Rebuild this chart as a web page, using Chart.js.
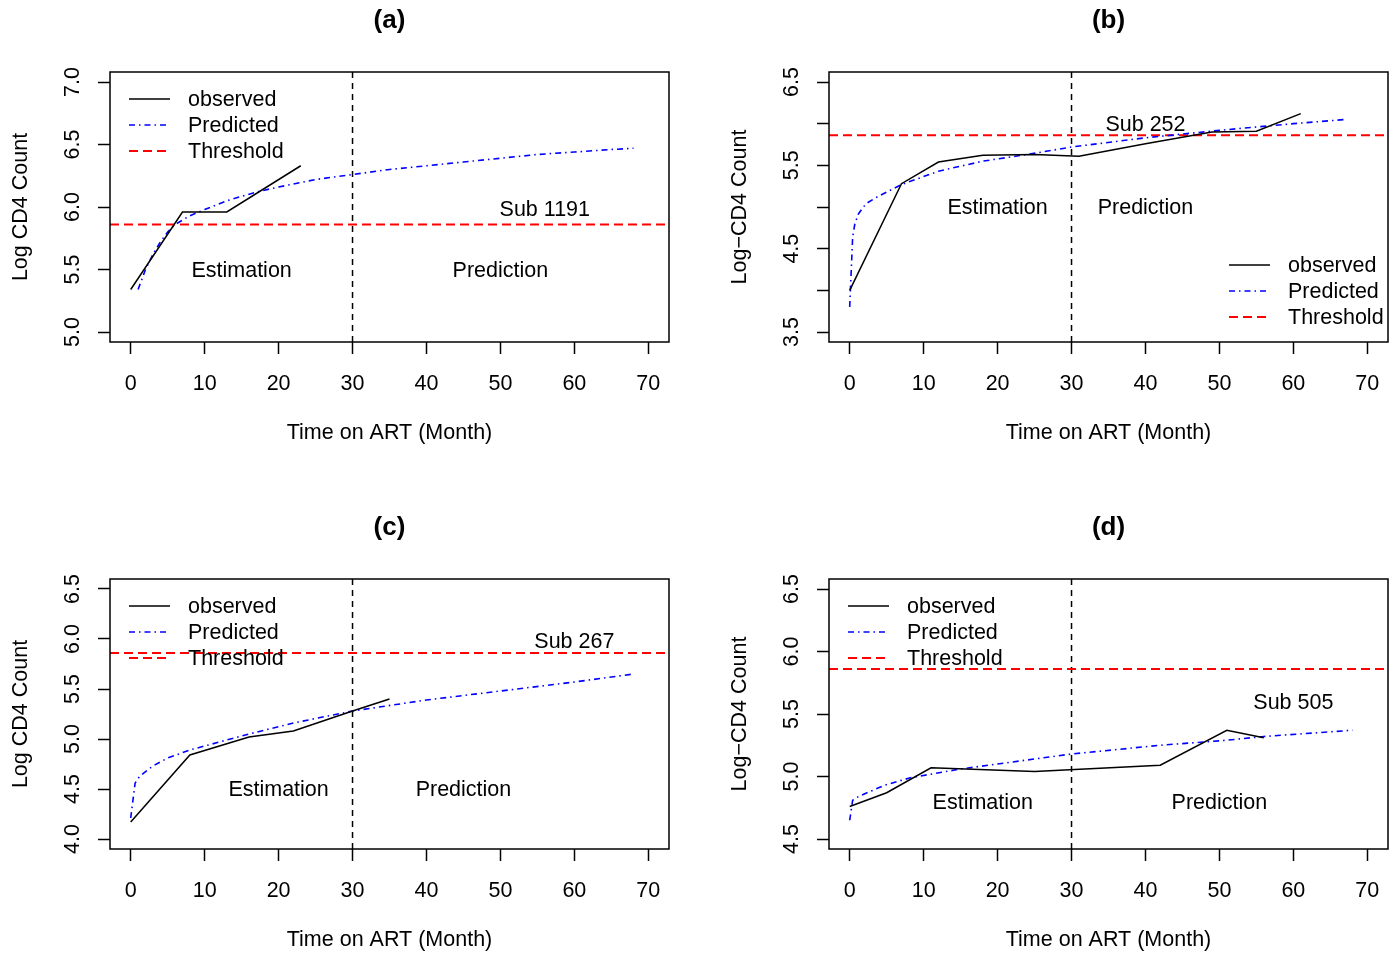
<!DOCTYPE html>
<html>
<head>
<meta charset="utf-8">
<script src="https://cdn.jsdelivr.net/npm/chart.js@4.4.0/dist/chart.umd.min.js"></script>
<style>
  body { margin: 0; background: #fff; }
  #wrap { position: relative; width: 1395px; height: 953px; background: #fff; }
  .panel { position: absolute; }
</style>
</head>
<body>
<div id="wrap">
  <canvas class="panel" id="pa" width="676" height="446" style="left:0;top:0"></canvas>
  <canvas class="panel" id="pb" width="676" height="446" style="left:719px;top:0"></canvas>
  <canvas class="panel" id="pc" width="676" height="446" style="left:0;top:507px"></canvas>
  <canvas class="panel" id="pd" width="676" height="446" style="left:719px;top:507px"></canvas>
</div>
<script>
// shared
var xTicks = [0, 10, 20, 30, 40, 50, 60, 70];
var threshold = 5.86;   // log(350)
var splitMonth = 30;
var seriesNames = ['observed', 'Predicted', 'Threshold'];

// (a) Sub 1191
var obsMonthA = [0, 7, 13, 23];
var obsA = [5.34, 5.96, 5.96, 6.33];
var predMonthA = [1, 2, 3, 4, 5, 6, 8, 10, 13, 17, 20, 25, 30, 35, 40, 45, 50, 55, 60, 65, 68];
var predA = [5.34, 5.50, 5.62, 5.72, 5.80, 5.86, 5.93, 5.98, 6.05, 6.12, 6.16, 6.22, 6.26, 6.30, 6.33, 6.36, 6.39, 6.42, 6.44, 6.46, 6.47];
var yTicksA = [5.0, 5.5, 6.0, 6.5, 7.0];
var yLabelsA = [5.0, 5.5, 6.0, 6.5, 7.0];

// (b) Sub 252
var obsMonthB = [0, 7, 12, 18, 25, 31, 40, 49, 55, 61];
var obsB = [4.00, 5.28, 5.54, 5.62, 5.63, 5.61, 5.76, 5.90, 5.91, 6.12];
var predMonthB = [0, 0.4, 0.7, 1.2, 2.2, 3.7, 7, 12, 18, 24, 30, 40, 50, 60, 67];
var predB = [3.80, 4.64, 4.80, 4.92, 5.04, 5.12, 5.27, 5.43, 5.55, 5.63, 5.72, 5.83, 5.92, 6.00, 6.05];
var yTicksB = [3.5, 4.0, 4.5, 5.0, 5.5, 6.0, 6.5];
var yLabelsB = [3.5, 4.5, 5.5, 6.5];

// (c) Sub 267
var obsMonthC = [0, 8, 16, 22, 30, 35];
var obsC = [4.17, 4.84, 5.02, 5.08, 5.28, 5.40];
var predMonthC = [0, 0.6, 1.25, 3, 5, 8, 12, 16, 22, 30, 40, 50, 60, 68];
var predC = [4.21, 4.56, 4.63, 4.73, 4.81, 4.89, 4.97, 5.05, 5.16, 5.28, 5.39, 5.48, 5.57, 5.65];
var yTicksC = [4.0, 4.5, 5.0, 5.5, 6.0, 6.5];
var yLabelsC = [4.0, 4.5, 5.0, 5.5, 6.0, 6.5];

// (d) Sub 505
var obsMonthD = [0, 5, 11, 25, 42, 51, 56];
var obsD = [4.76, 4.87, 5.07, 5.04, 5.09, 5.37, 5.31];
var predMonthD = [0, 0.4, 1.2, 4.7, 8.2, 15, 30, 42, 51, 56, 68];
var predD = [4.65, 4.81, 4.84, 4.93, 4.99, 5.06, 5.18, 5.25, 5.29, 5.32, 5.37];
var yTicksD = [4.5, 5.0, 5.5, 6.0, 6.5];
var yLabelsD = [4.5, 5.0, 5.5, 6.0, 6.5];

var FONT = '"Liberation Sans", Arial, Helvetica, sans-serif';
var FS = 21.5;
var xMin = -2.8, xMax = 72.8;

function pts(xs, ys) {
    return xs.map(function(x, i) { return { x: x, y: ys[i] }; });
}

// box, y labels, title, text and legend drawn on top of the chart
var extras = {
    id: 'extras',
    afterDraw: function(chart, args, o) {
        var c = chart.ctx, a = chart.chartArea;
        var xs = chart.scales.x, ys = chart.scales.y;
        c.save();
        c.strokeStyle = '#000';
        c.lineWidth = 1.5;
        c.strokeRect(a.left, a.top, a.right - a.left, a.bottom - a.top);

        c.fillStyle = '#000';
        c.font = FS + 'px ' + FONT;
        o.yLabels.forEach(function(v) {
            c.save();
            c.translate(a.left - 37, ys.getPixelForValue(v));
            c.rotate(-Math.PI / 2);
            c.textAlign = 'center';
            c.textBaseline = 'middle';
            c.fillText(v.toFixed(1), 0, 0);
            c.restore();
        });

        c.textAlign = 'center';
        c.textBaseline = 'middle';
        c.font = 'bold 26px ' + FONT;
        c.fillText(o.title, (a.left + a.right) / 2, 21);

        c.font = FS + 'px ' + FONT;
        o.notes.forEach(function(n) {
            c.fillText(n[0], xs.getPixelForValue(n[1]), ys.getPixelForValue(n[2]) + 1.5);
        });

        // legend
        var lx = a.left + o.legend[0], ly = a.top + o.legend[1];
        var styles = [
            { color: '#000', dash: [], w: 1.5 },
            { color: '#0000ff', dash: [6, 4, 1.5, 4], w: 1.5 },
            { color: '#ff0000', dash: [9, 5], w: 2 }
        ];
        styles.forEach(function(s, i) {
            var y = ly + i * 26;
            c.beginPath();
            c.setLineDash(s.dash);
            c.strokeStyle = s.color;
            c.lineWidth = s.w;
            c.moveTo(lx, y);
            c.lineTo(lx + 41, y);
            c.stroke();
            c.setLineDash([]);
            c.textAlign = 'left';
            c.fillStyle = '#000';
            c.fillText(seriesNames[i], lx + 59, y + 1);
        });
        c.restore();
    }
};

function drawPanel(id, cfg) {
    var yMin = cfg.yTicks[0], yMax = cfg.yTicks[cfg.yTicks.length - 1];
    var pad = (yMax - yMin) * 0.04;
    new Chart(document.getElementById(id), {
        type: 'line',
        data: {
            datasets: [
                {
                    label: 'observed',
                    data: pts(cfg.obsX, cfg.obs),
                    borderColor: '#000',
                    borderWidth: 1.5,
                    pointRadius: 0,
                    tension: 0
                },
                {
                    label: 'Predicted',
                    data: pts(cfg.predX, cfg.pred),
                    borderColor: '#0000ff',
                    borderWidth: 1.6,
                    borderDash: [6, 4, 1.5, 4],
                    pointRadius: 0,
                    tension: 0
                },
                {
                    label: 'Threshold',
                    data: [{ x: xMin, y: threshold }, { x: xMax, y: threshold }],
                    borderColor: '#ff0000',
                    borderWidth: 2,
                    borderDash: [9, 5],
                    pointRadius: 0
                },
                {
                    label: 'split',
                    data: [{ x: splitMonth, y: yMin - pad }, { x: splitMonth, y: yMax + pad }],
                    borderColor: '#000',
                    borderWidth: 1.5,
                    borderDash: [6, 5],
                    pointRadius: 0
                }
            ]
        },
        options: {
            responsive: false,
            animation: false,
            layout: { padding: { left: 0, top: 72, right: 7, bottom: 0 } },
            plugins: {
                legend: { display: false },
                tooltip: { enabled: false },
                extras: {
                    title: cfg.title,
                    yLabels: cfg.yLabels,
                    notes: cfg.notes,
                    legend: cfg.legend
                }
            },
            scales: {
                x: {
                    type: 'linear',
                    min: xMin,
                    max: xMax,
                    afterBuildTicks: function(s) { s.ticks = xTicks.map(function(v) { return { value: v }; }); },
                    afterFit: function(s) { s.height = 104; s.paddingRight = 0; s.paddingLeft = 0; },
                    ticks: { color: '#000', font: { size: FS, family: FONT }, padding: 17, maxRotation: 0, autoSkip: false },
                    grid: { drawOnChartArea: false, tickLength: 12, tickColor: '#000', tickWidth: 1.5 },
                    border: { display: false },
                    title: { display: true, text: 'Time on ART (Month)', color: '#000', font: { size: FS, family: FONT }, padding: { top: 0, bottom: 0 } }
                },
                y: {
                    type: 'linear',
                    min: yMin - pad,
                    max: yMax + pad,
                    afterBuildTicks: function(s) { s.ticks = cfg.yTicks.map(function(v) { return { value: v }; }); },
                    afterFit: function(s) { s.width = 110; },
                    ticks: { display: false },
                    grid: { drawOnChartArea: false, tickLength: 12, tickColor: '#000', tickWidth: 1.5 },
                    border: { display: false },
                    title: { display: true, text: cfg.yTitle, color: '#000', font: { size: FS, family: FONT }, padding: { top: 8, bottom: 0 } }
                }
            }
        },
        plugins: [extras]
    });
}

drawPanel('pa', {
    title: '(a)', yTitle: 'Log CD4 Count',
    obsX: obsMonthA, obs: obsA, predX: predMonthA, pred: predA,
    yTicks: yTicksA, yLabels: yLabelsA,
    notes: [['Estimation', 15, 5.5], ['Prediction', 50, 5.5], ['Sub 1191', 56, 5.99]],
    legend: [19, 27]
});
drawPanel('pb', {
    title: '(b)', yTitle: 'Log\u2212CD4 Count',
    obsX: obsMonthB, obs: obsB, predX: predMonthB, pred: predB,
    yTicks: yTicksB, yLabels: yLabelsB,
    notes: [['Estimation', 20, 5.0], ['Prediction', 40, 5.0], ['Sub 252', 40, 6.0]],
    legend: [400, 193]
});
drawPanel('pc', {
    title: '(c)', yTitle: 'Log CD4 Count',
    obsX: obsMonthC, obs: obsC, predX: predMonthC, pred: predC,
    yTicks: yTicksC, yLabels: yLabelsC,
    notes: [['Estimation', 20, 4.5], ['Prediction', 45, 4.5], ['Sub 267', 60, 5.98]],
    legend: [19, 27]
});
drawPanel('pd', {
    title: '(d)', yTitle: 'Log\u2212CD4 Count',
    obsX: obsMonthD, obs: obsD, predX: predMonthD, pred: predD,
    yTicks: yTicksD, yLabels: yLabelsD,
    notes: [['Estimation', 18, 4.8], ['Prediction', 50, 4.8], ['Sub 505', 60, 5.6]],
    legend: [19, 27]
});
</script>
</body>
</html>
